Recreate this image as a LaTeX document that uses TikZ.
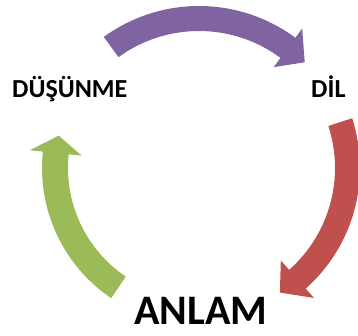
\documentclass[tikz,border=0pt]{standalone}
\usepackage{fontspec}
\setmainfont{Carlito}
\definecolor{cpurple}{HTML}{8064A2}
\definecolor{cred}{HTML}{C0504D}
\definecolor{cgreen}{HTML}{9BBB59}
\newcommand\blockarc[7]{%
  \fill[#1] (#4:#3) arc[start angle=#4, end angle=#5, radius=#3]
    -- (#5:{(#2+#3)/2+#7}) -- (#6:{(#2+#3)/2}) -- (#5:{(#2+#3)/2-#7})
    -- (#5:#2) arc[start angle=#5, end angle=#4, radius=#2] -- cycle;}
\tikzset{lbl/.style={inner sep=0pt, anchor=base west, font=\bfseries}}
\begin{document}
\begin{tikzpicture}[x=1pt,y=1pt]
\useasboundingbox (0,0) rectangle (358,335);
\begin{scope}[shift={(199,167)}]
  \blockarc{cpurple}{137}{162}{126}{53.5}{45}{24}
  \blockarc{cred}{136}{161}{18}{-48.5}{-57}{25}
  \blockarc{cgreen}{131}{157}{236}{174}{167}{26}
\end{scope}
\node[lbl, font=\bfseries\fontsize{26}{30}\selectfont] (dusunme) at (12,237) {DÜŞÜNME};
\node[lbl, font=\bfseries\fontsize{26}{30}\selectfont] (dil) at (311,237) {DİL};
\node[lbl, font=\bfseries\fontsize{42}{50}\selectfont] (anlam) at (134,11) {ANLAM};
\end{tikzpicture}
\end{document}
